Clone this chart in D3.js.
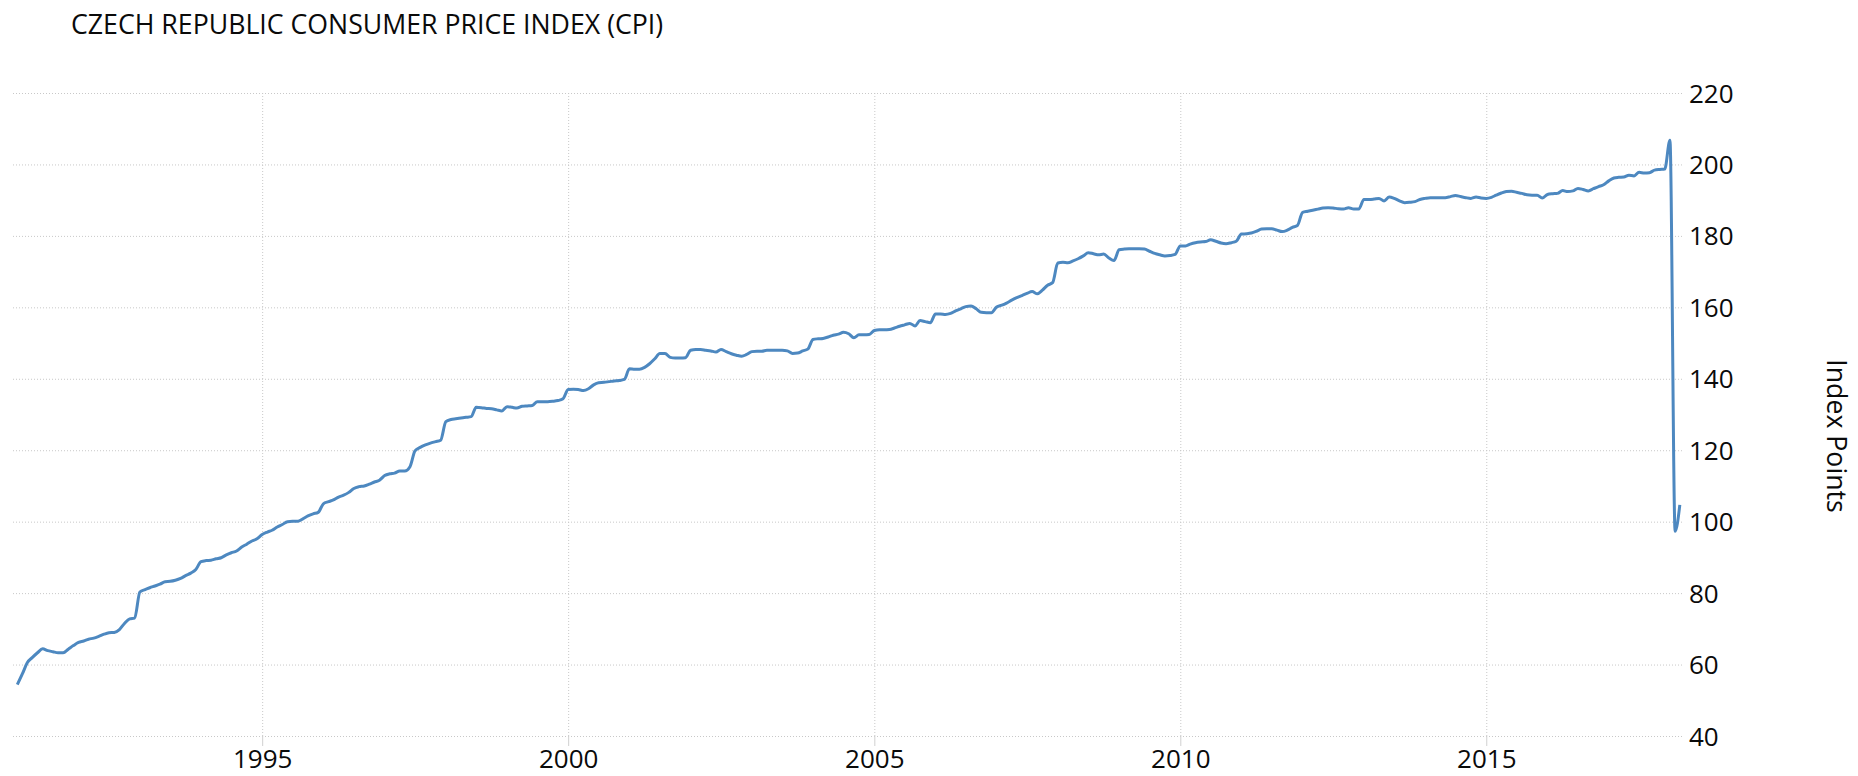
<!DOCTYPE html>
<html lang="en">

<head>
  <meta charset="utf-8">
  <title>Czech Republic Consumer Price Index (CPI)</title>
  <style>
    body {
      margin: 0;
      padding: 0;
      background-color: #fff;
      font-family: 'Open Sans', sans-serif;
    }

    .title {
      font-size: 26.7px;
      fill: #0a0a0a;
    }

    .axis text {
      font-family: 'Open Sans', sans-serif;
      font-size: 26px;
      fill: #0a0a0a;
    }

    .grid line {
      stroke: #c8c8c8;
      stroke-width: 1px;
      stroke-dasharray: 1, 2;
    }

    .grid path,
    .axis path {
      display: none;
    }
  </style>
</head>

<body>
  <div id="my_dataviz"></div>

  <script src="https://d3js.org/d3.v7.min.js"></script>
  <script>
    // chart texts and tick labels
    var chartTitle = "CZECH REPUBLIC CONSUMER PRICE INDEX (CPI)";
    var yAxisLabel = "Index Points";
    var xTickYears = [1995, 2000, 2005, 2010, 2015];
    var yTickValues = [40, 60, 80, 100, 120, 140, 160, 180, 200, 220];

    // monthly CPI values, one array per year (Jan..Dec)
    var cpi1991 = [54.4, 57.5, 60.5, 62.0, 63.3, 64.4, 63.9, 63.6, 63.3, 63.3, 64.3, 65.3];
    var cpi1992 = [66.2, 66.6, 67.1, 67.4, 67.9, 68.5, 68.9, 69.0, 69.8, 71.5, 72.8, 73.0];
    var cpi1993 = [80.3, 81.0, 81.5, 82.0, 82.5, 83.2, 83.3, 83.6, 84.1, 84.9, 85.6, 86.6];
    var cpi1994 = [88.8, 89.1, 89.2, 89.6, 89.9, 90.7, 91.3, 91.8, 92.9, 93.7, 94.6, 95.2];
    var cpi1995 = [96.4, 97.1, 97.6, 98.5, 99.2, 100.0, 100.1, 100.1, 100.8, 101.6, 102.2, 102.6];
    var cpi1996 = [105.0, 105.6, 106.1, 106.9, 107.4, 108.2, 109.3, 109.8, 110.0, 110.5, 111.1, 111.6];
    var cpi1997 = [112.9, 113.4, 113.6, 114.2, 114.2, 115.4, 119.8, 120.8, 121.5, 122.0, 122.4, 122.8];
    var cpi1998 = [128.0, 128.6, 128.8, 129.0, 129.2, 129.4, 132.0, 131.9, 131.7, 131.6, 131.3, 131.0];
    var cpi1999 = [132.2, 132.0, 131.8, 132.3, 132.4, 132.5, 133.6, 133.6, 133.6, 133.7, 133.9, 134.4];
    var cpi2000 = [137.0, 137.1, 137.0, 136.7, 137.2, 138.3, 138.9, 139.0, 139.2, 139.4, 139.5, 139.8];
    var cpi2001 = [142.8, 142.7, 142.7, 143.2, 144.2, 145.6, 147.1, 147.1, 146.0, 145.8, 145.8, 145.9];
    var cpi2002 = [148.0, 148.2, 148.2, 148.0, 147.8, 147.5, 148.2, 147.6, 147.0, 146.6, 146.3, 146.8];
    var cpi2003 = [147.6, 147.7, 147.7, 148.0, 148.0, 148.0, 148.0, 147.8, 147.1, 147.2, 147.8, 148.3];
    var cpi2004 = [151.0, 151.2, 151.3, 151.7, 152.2, 152.5, 153.0, 152.6, 151.5, 152.3, 152.3, 152.4];
    var cpi2005 = [153.5, 153.7, 153.7, 153.8, 154.2, 154.7, 155.1, 155.5, 154.8, 156.3, 156.0, 155.7];
    var cpi2006 = [158.1, 158.1, 158.0, 158.3, 159.0, 159.6, 160.2, 160.4, 159.6, 158.6, 158.5, 158.5];
    var cpi2007 = [160.1, 160.6, 161.2, 162.0, 162.7, 163.3, 163.9, 164.4, 163.8, 164.8, 166.2, 166.9];
    var cpi2008 = [172.4, 172.6, 172.5, 173.0, 173.6, 174.4, 175.3, 175.0, 174.7, 174.9, 173.8, 173.1];
    var cpi2009 = [176.1, 176.3, 176.4, 176.4, 176.4, 176.3, 175.7, 175.1, 174.7, 174.4, 174.5, 174.8];
    var cpi2010 = [177.2, 177.2, 177.7, 178.1, 178.3, 178.4, 178.9, 178.5, 178.0, 177.8, 178.1, 178.5];
    var cpi2011 = [180.5, 180.6, 180.8, 181.3, 181.9, 182.0, 182.0, 181.6, 181.2, 181.6, 182.4, 182.9];
    var cpi2012 = [186.6, 186.9, 187.2, 187.5, 187.8, 187.9, 187.8, 187.6, 187.5, 187.9, 187.5, 187.5];
    var cpi2013 = [190.2, 190.2, 190.3, 190.5, 189.8, 190.9, 190.5, 189.8, 189.3, 189.4, 189.6, 190.2];
    var cpi2014 = [190.5, 190.7, 190.7, 190.7, 190.7, 191.0, 191.3, 191.0, 190.7, 190.5, 190.9, 190.6];
    var cpi2015 = [190.5, 190.8, 191.4, 192.0, 192.4, 192.5, 192.2, 191.9, 191.5, 191.4, 191.4, 190.6];
    var cpi2016 = [191.6, 191.8, 191.9, 192.7, 192.4, 192.6, 193.3, 193.0, 192.6, 193.2, 193.8, 194.3];
    var cpi2017 = [195.4, 196.2, 196.4, 196.5, 197.0, 196.8, 197.8, 197.6, 197.7, 198.4, 198.6, 198.7];
    var cpi2018 = [206.8, 97.3, 104.7];

    var firstYear = 1991;
    var cpiByYear = [cpi1991, cpi1992, cpi1993, cpi1994, cpi1995, cpi1996, cpi1997,
      cpi1998, cpi1999, cpi2000, cpi2001, cpi2002, cpi2003, cpi2004, cpi2005,
      cpi2006, cpi2007, cpi2008, cpi2009, cpi2010, cpi2011, cpi2012, cpi2013,
      cpi2014, cpi2015, cpi2016, cpi2017, cpi2018];

    // flatten into {date, value} rows
    var data = [];
    cpiByYear.forEach(function (months, i) {
      months.forEach(function (v, j) {
        data.push({ date: new Date(firstYear + i, j, 1), value: v });
      });
    });

    // set the dimensions and margins of the graph
    var margin = { top: 93, right: 176, bottom: 40, left: 11 },
      width = 1858 - margin.left - margin.right,
      height = 776 - margin.top - margin.bottom;

    var root = d3.select("#my_dataviz")
      .append("svg")
      .attr("width", 1858)
      .attr("height", 776);

    // title
    root.append("text")
      .attr("class", "title")
      .attr("x", 71)
      .attr("y", 34)
      .text(chartTitle);

    var svg = root.append("g")
      .attr("transform", "translate(" + margin.left + "," + margin.top + ")");

    // X scale
    var x = d3.scaleTime()
      .domain([new Date(1990, 10, 24), new Date(2018, 2, 14)])
      .range([0, width]);

    // Y scale
    var y = d3.scaleLinear()
      .domain([40, 220])
      .range([height, 0]);

    var xTickDates = xTickYears.map(function (yr) { return new Date(yr, 0, 1); });

    // horizontal grid + right labels
    svg.append("g")
      .attr("class", "grid axis")
      .attr("transform", "translate(" + width + ",0)")
      .call(d3.axisRight(y)
        .tickValues(yTickValues)
        .tickSize(-width)
        .tickPadding(7))
      .selectAll("text")
      .attr("dy", "0.35em");

    // vertical grid
    svg.append("g")
      .attr("class", "grid")
      .attr("transform", "translate(0," + height + ")")
      .call(d3.axisBottom(x)
        .tickValues(xTickDates)
        .tickSize(-height)
        .tickFormat(""));

    // X axis ticks and labels
    var xAxis = svg.append("g")
      .attr("class", "axis")
      .attr("transform", "translate(0," + height + ")")
      .call(d3.axisBottom(x)
        .tickValues(xTickDates)
        .tickSize(10)
        .tickPadding(4)
        .tickFormat(d3.timeFormat("%Y")));
    xAxis.selectAll("line").attr("stroke", "#d0d0d0");

    // the line
    svg.append("path")
      .datum(data)
      .attr("fill", "none")
      .attr("stroke", "#4d88c0")
      .attr("stroke-width", 3)
      .attr("stroke-linejoin", "round")
      .attr("d", d3.line()
        .curve(d3.curveMonotoneX)
        .x(function (d) { return x(d.date); })
        .y(function (d) { return y(d.value); }));

    // Y axis label on the right
    root.append("text")
      .attr("class", "title")
      .attr("transform", "translate(1827,436) rotate(90)")
      .attr("text-anchor", "middle")
      .text(yAxisLabel);
  </script>
</body>

</html>
